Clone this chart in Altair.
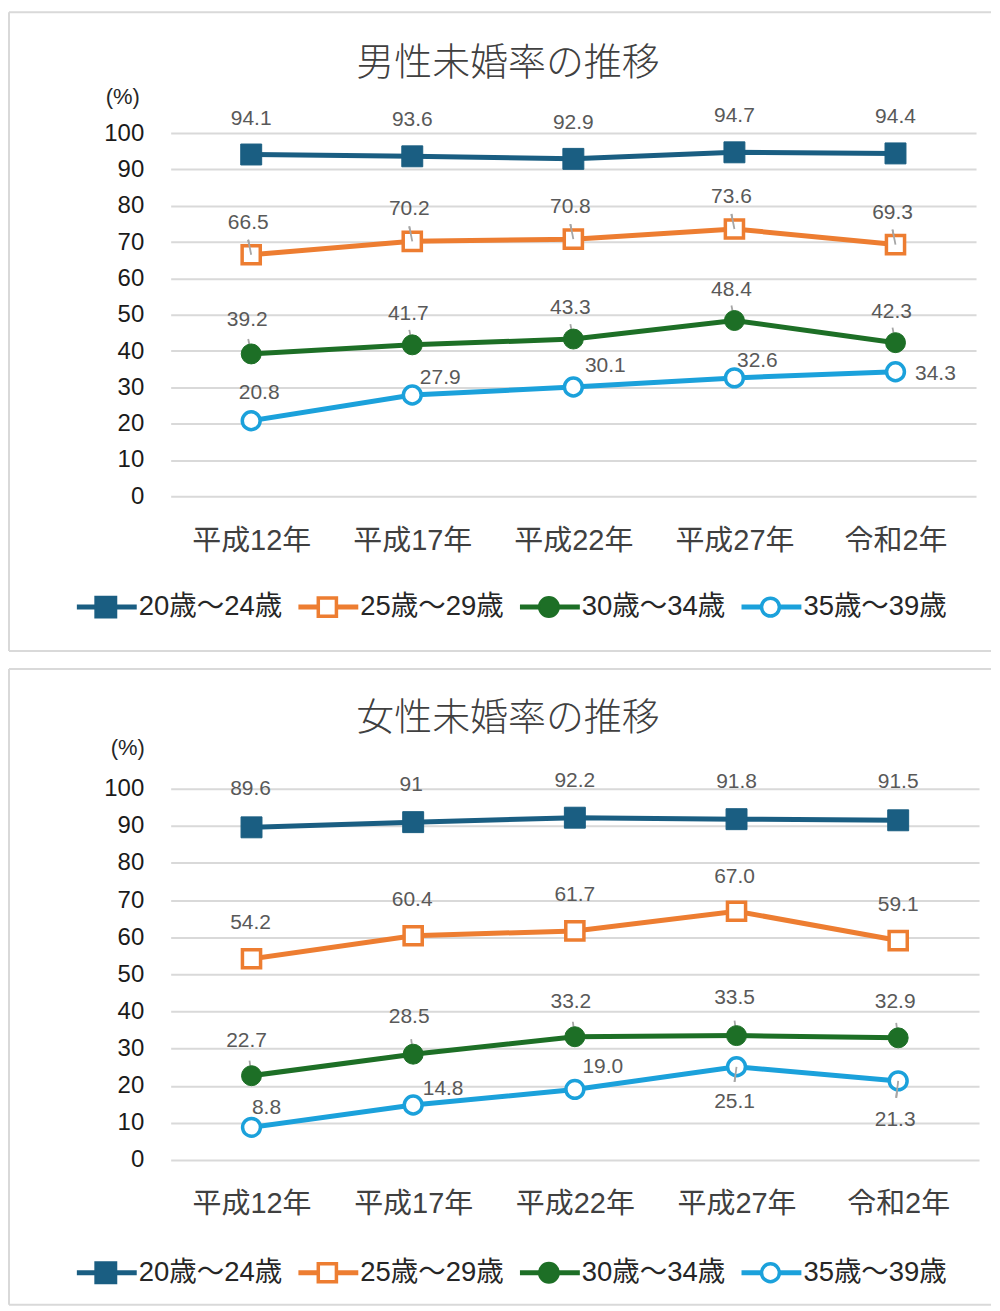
import altair as alt
import pandas as pd

# ---------------- data ----------------
years = ["平成12年", "平成17年", "平成22年", "平成27年", "令和2年"]
series = ["20歳～24歳", "25歳～29歳", "30歳～34歳", "35歳～39歳"]

male_20_24 = [94.1, 93.6, 92.9, 94.7, 94.4]
male_25_29 = [66.5, 70.2, 70.8, 73.6, 69.3]
male_30_34 = [39.2, 41.7, 43.3, 48.4, 42.3]
male_35_39 = [20.8, 27.9, 30.1, 32.6, 34.3]

female_20_24 = [89.6, 91, 92.2, 91.8, 91.5]
female_25_29 = [54.2, 60.4, 61.7, 67.0, 59.1]
female_30_34 = [22.7, 28.5, 33.2, 33.5, 32.9]
female_35_39 = [8.8, 14.8, 19.0, 25.1, 21.3]

y_ticks = list(range(0, 101, 10))

# ---------------- styles ----------------
colors = ["#1A5E82", "#ED7D31", "#1D6F26", "#1BA1DB"]
shapes = ["square", "square", "circle", "circle"]
filled = [True, False, True, False]
FONT = "Liberation Sans, Noto Sans CJK JP"
CJK = "Noto Sans CJK JP"
SIZE_FILLED = {"square": 440, "circle": 400}
SIZE_OPEN = {"square": 330, "circle": 320}

# label offsets (dx, dy) per point, per series
male_offsets = [
    [(0, -36)] * 5,
    [(-3, -32)] * 5,
    [(-4, -34), (-4, -31), (-3, -31), (-3, -31), (-4, -31)],
    [(8, -28), (28, -17), (32, -21), (23, -17), (40, 2)],
]
female_offsets = [
    [(-1, -38), (-2, -37), (0, -37), (0, -37), (0, -38)],
    [(-1, -36), (-1, -36), (0, -36), (-2, -34), (0, -36)],
    [(-5, -35), (-4, -37), (-4, -35), (-2, -38), (-3, -36)],
    [(15, -19), (30, -16), (28, -22), (-2, 35), (-3, 39)],
]
# leader lines: (series index, point index, x2 offset, y2 offset)
male_leaders = [(1, i, -3, -15) for i in range(5)] + [(2, i, -3, -15) for i in range(5)]
female_leaders = [(2, i, -2, -15) for i in range(5)] + [(3, 3, -2, 15), (3, 4, -2, 17)]


def make_panel(title, vals, offsets, leaders, plot_h, plot_w, rect_y, title_y, pct_xy, legend_dy):
    rows = []
    for si, s in enumerate(series):
        for yi, yr in enumerate(years):
            v = vals[si][yi]
            rows.append({"year": yr, "series": s, "sidx": si, "pidx": yi,
                         "value": float(v), "label": str(v),
                         "dx": offsets[si][yi][0], "dy": offsets[si][yi][1]})
    df = pd.DataFrame(rows)
    legend_y = plot_h + legend_dy

    xenc = alt.X("year:N", sort=years,
                 scale=alt.Scale(type="point", domain=years, padding=0.5),
                 axis=alt.Axis(title=None, grid=False, domain=False, ticks=False,
                               labelFont=FONT, labelFontSize=29, labelColor="#404040",
                               labelPadding=30, labelAngle=0))
    yenc = alt.Y("value:Q", scale=alt.Scale(domain=[0, 100], nice=False),
                 axis=alt.Axis(title=None, values=y_ticks, grid=True, gridColor="#D9D9D9",
                               gridWidth=2, domain=False, ticks=False, tickSize=0,
                               labelFont=FONT, labelFontSize=24, labelColor="#1A1A1A",
                               labelPadding=27))

    layers = []
    # frame (top, left, bottom edges; right edge runs off the picture in the reference)
    fd = pd.DataFrame({"f": [0]})
    fl, fr = -162, 822
    layers.append(alt.Chart(fd).mark_rule(color="#D9D9D9", strokeWidth=2).encode(
        x=alt.value(fl), x2=alt.value(fr), y=alt.value(rect_y[0])))
    layers.append(alt.Chart(fd).mark_rule(color="#D9D9D9", strokeWidth=2).encode(
        x=alt.value(fl), x2=alt.value(fr), y=alt.value(rect_y[1])))
    layers.append(alt.Chart(fd).mark_rule(color="#D9D9D9", strokeWidth=2).encode(
        x=alt.value(fl), y=alt.value(rect_y[0]), y2=alt.value(rect_y[1])))

    for si, s in enumerate(series):
        d = df[df.sidx == si]
        line = alt.Chart(d).mark_line(color=colors[si], strokeWidth=5).encode(
            x=xenc, y=yenc)
        layers.append(line)
    # leader lines
    for (si, pi, ox, oy) in leaders:
        d = df[(df.sidx == si) & (df.pidx == pi)]
        lead = alt.Chart(d).mark_rule(color="#A6A6A6", strokeWidth=1.8,
                                       x2Offset=ox, y2Offset=oy).encode(
            x=xenc, y=yenc, x2="year:N", y2="value:Q")
        layers.append(lead)
    for si, s in enumerate(series):
        d = df[df.sidx == si]
        if filled[si]:
            pt = alt.Chart(d).mark_point(shape=shapes[si], filled=True, fill=colors[si],
                                         stroke=colors[si], strokeWidth=1,
                                         size=SIZE_FILLED[shapes[si]], opacity=1)
        else:
            pt = alt.Chart(d).mark_point(shape=shapes[si], filled=True, fill="white",
                                         stroke=colors[si], strokeWidth=3.5,
                                         size=SIZE_OPEN[shapes[si]],
                                         opacity=1, fillOpacity=1)
        layers.append(pt.encode(x=xenc, y=yenc))
    # leaders on top of open markers (redraw)
    for (si, pi, ox, oy) in leaders:
        if not filled[si]:
            d = df[(df.sidx == si) & (df.pidx == pi)]
            lead = alt.Chart(d).mark_rule(color="#A6A6A6", strokeWidth=1.8,
                                           x2Offset=ox, y2Offset=oy).encode(
                x=xenc, y=yenc, x2="year:N", y2="value:Q")
            layers.append(lead)

    # data labels grouped by offset
    for (dx, dy), g in df.groupby(["dx", "dy"]):
        t = alt.Chart(g).mark_text(dx=int(dx), dy=int(dy), align="center", baseline="middle",
                                   font=FONT, fontSize=21, color="#595959").encode(
            x=xenc, y=yenc, text="label:N")
        layers.append(t)

    # title and unit
    ttl = alt.Chart(pd.DataFrame({"t": [title]})).mark_text(
        align="center", baseline="middle", font=CJK, fontSize=38, fontWeight=300,
        color="#404040").encode(x=alt.value(338), y=alt.value(title_y), text="t:N")
    pct = alt.Chart(pd.DataFrame({"t": ["(%)"]})).mark_text(
        align="center", baseline="middle", font=FONT, fontSize=22,
        color="#262626").encode(x=alt.value(pct_xy[0]), y=alt.value(pct_xy[1]), text="t:N")
    layers += [ttl, pct]

    # custom legend
    leg = pd.DataFrame({"series": series, "idx": list(range(len(series)))})
    for si, s in enumerate(series):
        d = leg[leg.idx == si]
        lb = alt.Chart(d).transform_calculate(
            l1="-94 + 222 * datum.idx", l2="-34 + 222 * datum.idx",
            lm="-65 + 222 * datum.idx", lt="-32 + 222 * datum.idx")
        layers.append(lb.mark_rule(color=colors[si], strokeWidth=5).encode(
            x=alt.X("l1:Q", scale=None, axis=None), x2="l2:Q", y=alt.value(legend_y)))
        if filled[si]:
            mk = lb.mark_point(shape=shapes[si], filled=True, fill=colors[si], stroke=colors[si],
                               size=SIZE_FILLED[shapes[si]], opacity=1)
        else:
            mk = lb.mark_point(shape=shapes[si], filled=True, fill="white", stroke=colors[si],
                               strokeWidth=3.5, size=SIZE_OPEN[shapes[si]], opacity=1)
        layers.append(mk.encode(x=alt.X("lm:Q", scale=None, axis=None), y=alt.value(legend_y)))
        layers.append(lb.mark_text(align="left", baseline="middle", font=FONT, fontSize=27.5,
                                   color="#262626").encode(
            x=alt.X("lt:Q", scale=None, axis=None), y=alt.value(legend_y), text="series:N"))

    return alt.layer(*layers).properties(width=plot_w, height=plot_h)


male = make_panel("男性未婚率の推移",
                  [male_20_24, male_25_29, male_30_34, male_35_39],
                  male_offsets, male_leaders, 364, 807, (-121, 519), -69, (-48, -36), 111)
female = make_panel("女性未婚率の推移",
                    [female_20_24, female_25_29, female_30_34, female_35_39],
                    female_offsets, female_leaders, 372, 810, (-120, 517), -70, (-43, -41), 113)

chart = alt.vconcat(male, female, spacing=16).properties(
    padding={"left": 0, "top": 2, "right": 0, "bottom": 0}
).configure_view(stroke=None)

chart.save("out.html", embed_options={"renderer": "svg", "actions": False})
